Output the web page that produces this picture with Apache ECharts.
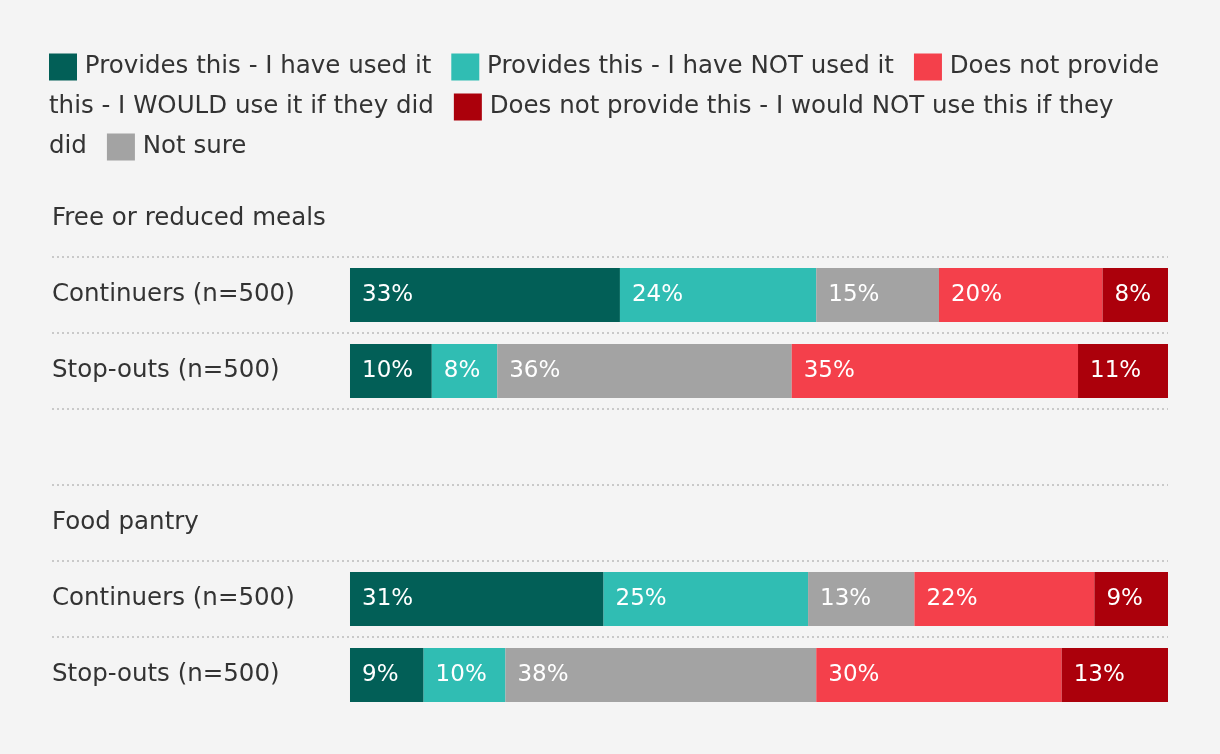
<!DOCTYPE html>
<html>
<head>
<meta charset="utf-8">
<script src="https://cdn.jsdelivr.net/npm/echarts@6/dist/echarts.min.js"></script>
<style>
  html, body { margin: 0; padding: 0; background: #f4f4f4; }
  #chart { width: 1220px; height: 754px; }
</style>
</head>
<body>
<div id="chart"></div>
<script>
// rows of the chart, group titles and a blank spacer are rows too
var rows = ['Free or reduced meals', 'Continuers (n=500)', 'Stop-outs (n=500)', '', 'Food pantry', 'Continuers (n=500)', 'Stop-outs (n=500)']

// stacked segments, left to right
var usedIt      = ['-', 33, 10, '-', '-', 31, 9]
var notUsedIt   = ['-', 24, 8,  '-', '-', 25, 10]
var notSure     = ['-', 15, 36, '-', '-', 13, 38]
var wouldUse    = ['-', 20, 35, '-', '-', 22, 30]
var wouldNotUse = ['-', 8,  11, '-', '-', 9,  13]

var names = [
  'Provides this - I have used it',
  'Provides this - I have NOT used it',
  'Does not provide this - I WOULD use it if they did',
  'Does not provide this - I would NOT use this if they did',
  'Not sure'
]
var colors = {
  used: '#025f57',
  notUsed: '#30bdb3',
  would: '#f4404b',
  wouldNot: '#ab000b',
  notSure: '#a3a3a3'
}

var FONT = 'DejaVu Sans'
var TXT = '#333333'

var chart = echarts.init(document.getElementById('chart'))

// legend drawn as flowing rich text (it wraps mid-item in the original)
function sw(c) {
  return { backgroundColor: c, width: 28, height: 27, lineHeight: 40 }
}
var legendText =
  '{a| }{t| Provides this - I have used it}{g| }{b| }{t| Provides this - I have NOT used it}{g| }{c| }{t| Does not provide}\n' +
  '{t|this - I WOULD use it if they did}{g| }{d| }{t| Does not provide this - I would NOT use this if they}\n' +
  '{t|did}{g| }{e| }{t| Not sure}'

function seg(name, data, color) {
  return {
    name: name,
    type: 'bar',
    stack: 'total',
    barWidth: 54,
    data: data,
    itemStyle: { color: color },
    label: {
      show: true,
      position: 'insideLeft',
      distance: 12,
      color: '#ffffff',
      fontFamily: FONT,
      fontSize: 23,
      formatter: '{c}%'
    },
    emphasis: { disabled: true }
  }
}

var option = {
  backgroundColor: '#f4f4f4',
  animation: false,
  title: {
    left: 49,
    top: 47,
    padding: 0,
    text: legendText,
    textStyle: {
      fontWeight: 'normal',
      rich: {
        t: { fontFamily: FONT, fontSize: 24.5, fontWeight: 'normal', color: TXT, lineHeight: 40 },
        g: { width: 20, lineHeight: 40 },
        a: sw(colors.used),
        b: sw(colors.notUsed),
        c: sw(colors.would),
        d: sw(colors.wouldNot),
        e: sw(colors.notSure)
      }
    }
  },
  grid: { left: 52, right: 52, top: 181, height: 532 },
  xAxis: {
    type: 'value',
    min: -36.43,
    max: 100,
    axisLabel: { show: false },
    axisLine: { show: false },
    axisTick: { show: false },
    splitLine: { show: false }
  },
  yAxis: {
    type: 'category',
    inverse: true,
    data: rows,
    axisLine: { show: false },
    axisTick: { show: false },
    axisLabel: {
      align: 'left',
      margin: 0,
      fontFamily: FONT,
      fontSize: 24.5,
      color: TXT
    },
    splitLine: {
      show: true,
      showMinLine: false,
      showMaxLine: false,
      lineStyle: { color: '#c9c9c9', type: [2, 3], width: 2 }
    }
  },
  series: [
    seg(names[0], usedIt, colors.used),
    seg(names[1], notUsedIt, colors.notUsed),
    seg(names[4], notSure, colors.notSure),
    seg(names[2], wouldUse, colors.would),
    seg(names[3], wouldNotUse, colors.wouldNot)
  ]
}

chart.setOption(option)
</script>
</body>
</html>
